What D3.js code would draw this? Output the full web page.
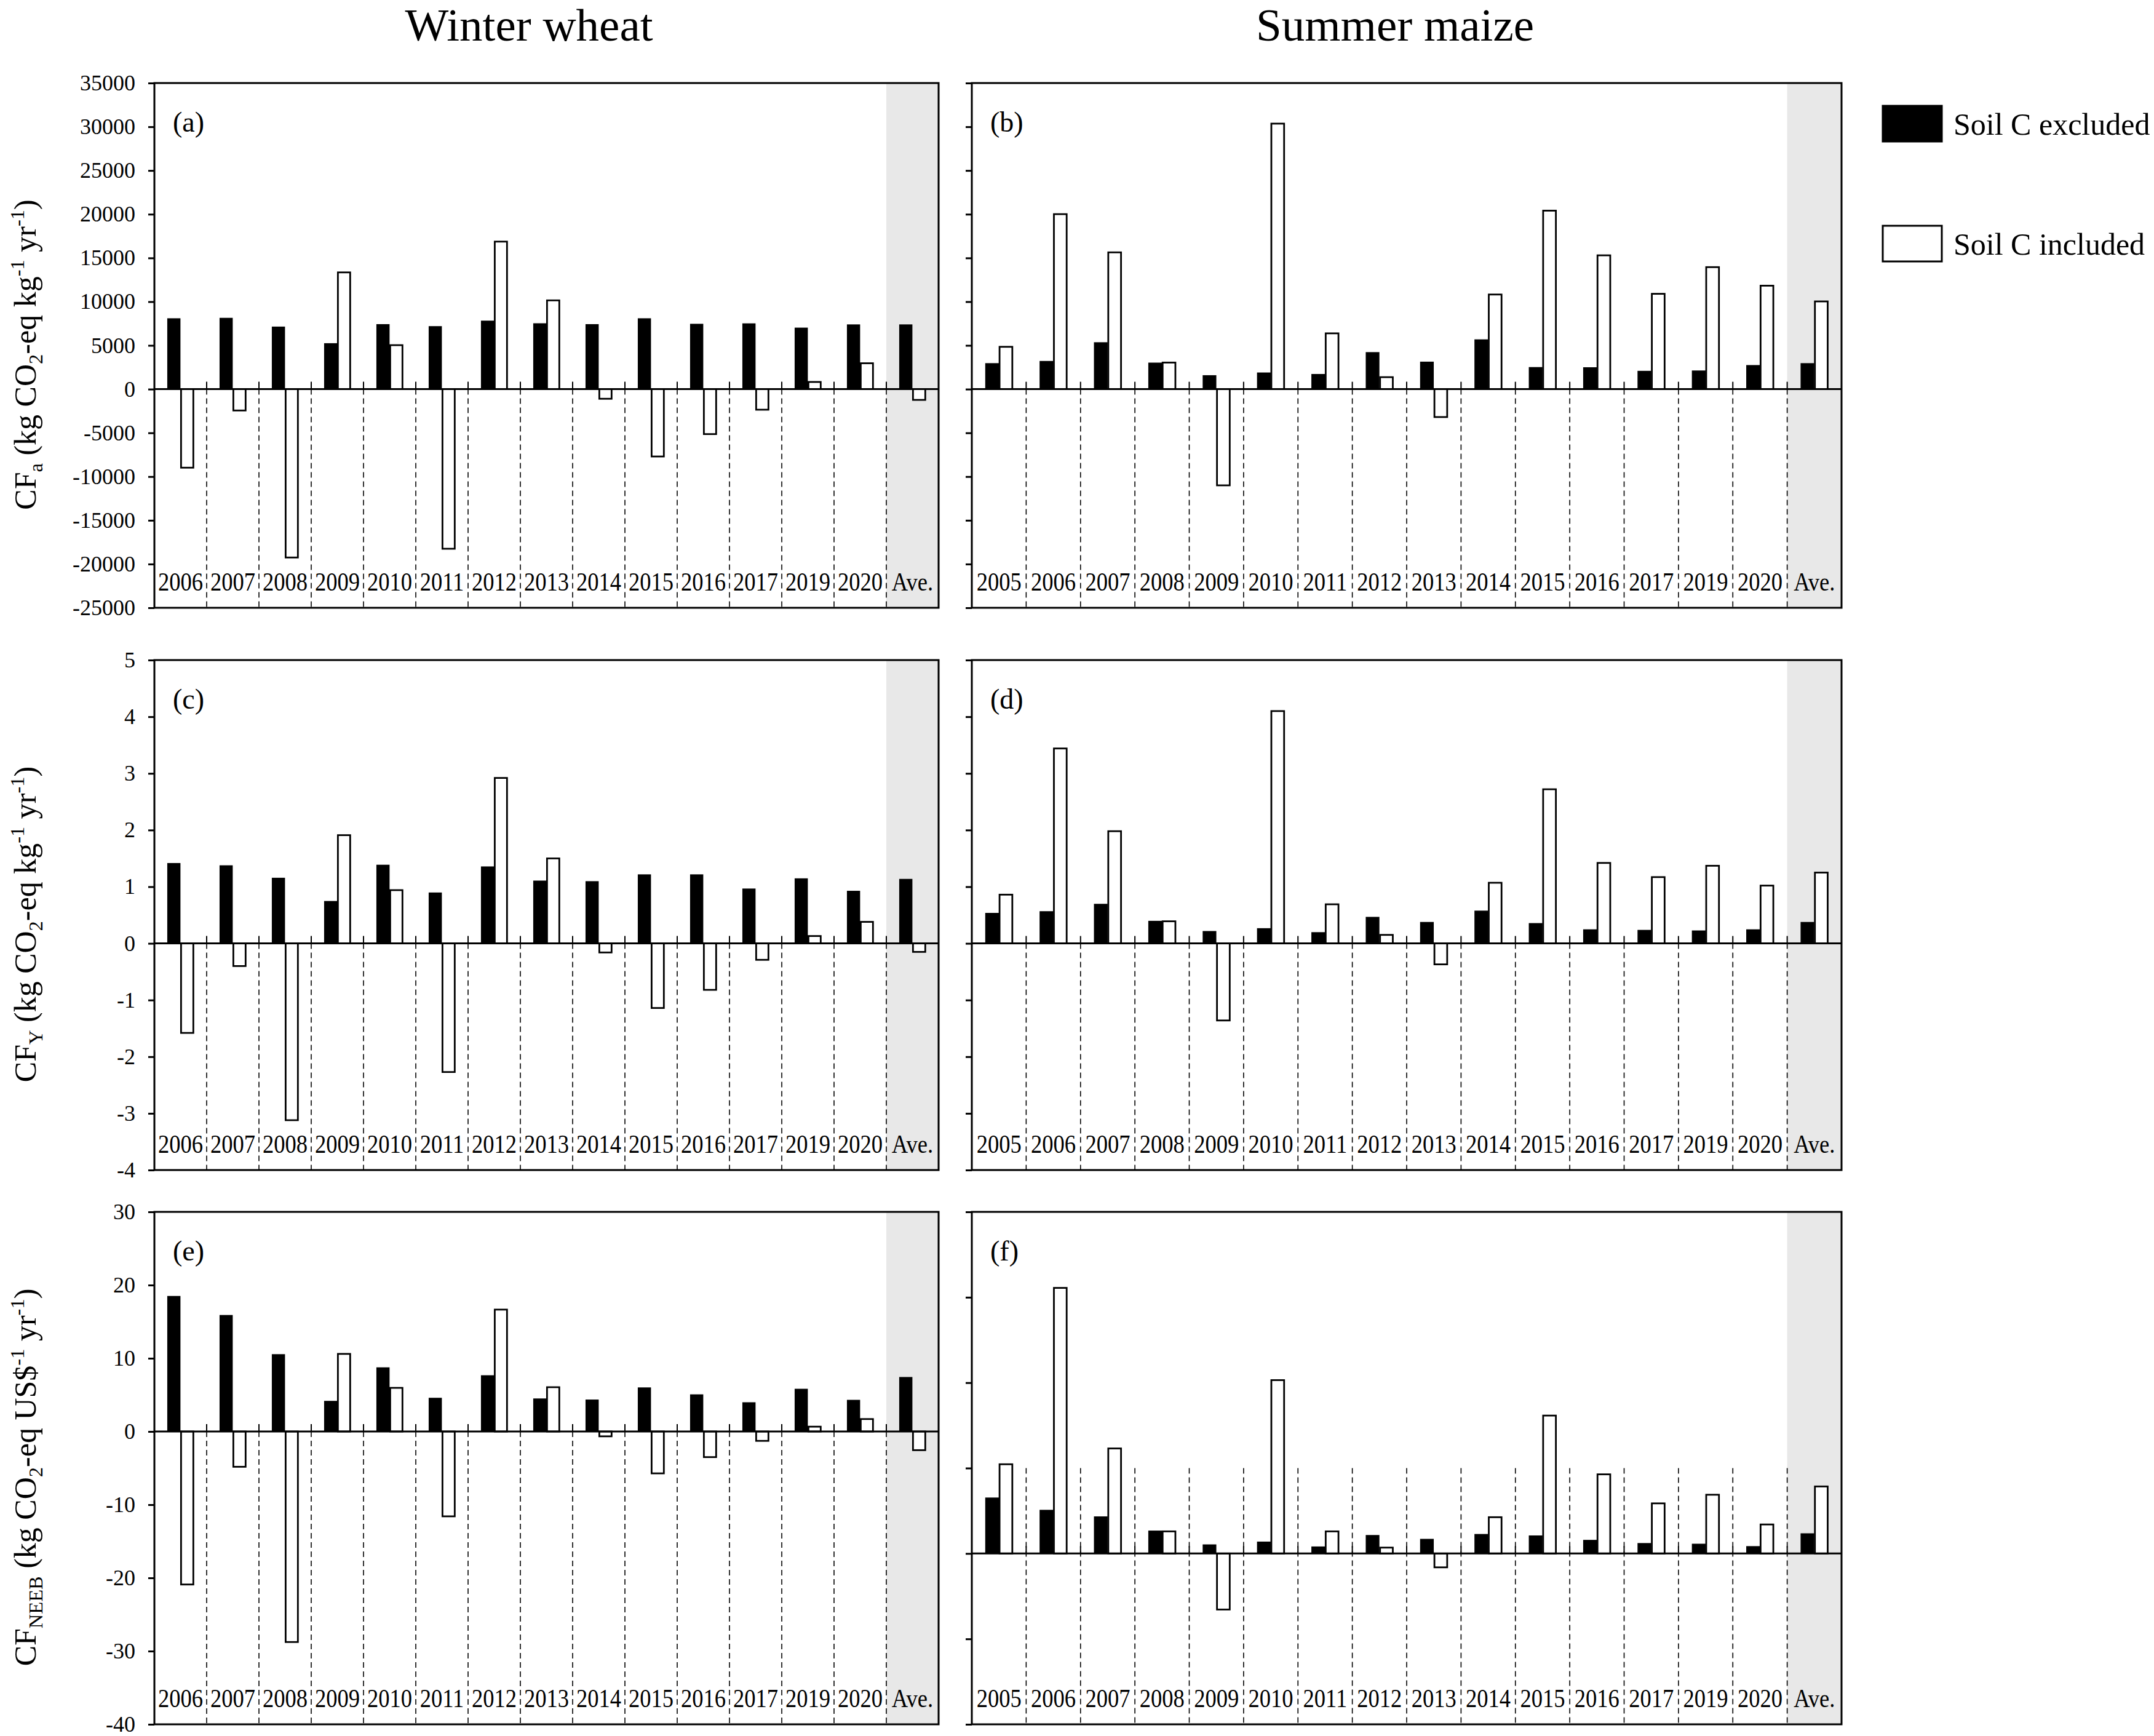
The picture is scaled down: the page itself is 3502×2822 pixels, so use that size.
<!DOCTYPE html>
<html>
<head>
<meta charset="utf-8">
<script src="https://cdn.jsdelivr.net/npm/d3@7"></script>
<style>
  body { margin: 0; background: #fff; }
  text { white-space: pre; }
</style>
</head>
<body>
<div id="chart"></div>
<script>
// ---- data ----
const wheatYears = ["2006","2007","2008","2009","2010","2011","2012","2013","2014","2015","2016","2017","2019","2020","Ave."];
const maizeYears = ["2005","2006","2007","2008","2009","2010","2011","2012","2013","2014","2015","2016","2017","2019","2020","Ave."];

// (a) CFa winter wheat
const cfaWheatExcl = [8050, 8100, 7100, 5200, 7380, 7150, 7780, 7480, 7380, 8050, 7420, 7470, 6980, 7350, 7350];
const cfaWheatIncl = [-8980, -2440, -19250, 13350, 5030, -18250, 16870, 10150, -1100, -7700, -5140, -2350, 820, 2960, -1230];
// (b) CFa summer maize
const cfaMaizeExcl = [2920, 3170, 5310, 2980, 1540, 1850, 1680, 4180, 3090, 5640, 2470, 2450, 2040, 2080, 2700, 2920];
const cfaMaizeIncl = [4840, 20010, 15640, 3040, -11000, 30360, 6380, 1370, -3190, 10820, 20410, 15300, 10900, 13950, 11830, 10030];
// (c) CFY winter wheat
const cfyWheatExcl = [1.41, 1.37, 1.15, 0.74, 1.38, 0.89, 1.35, 1.10, 1.09, 1.21, 1.21, 0.96, 1.14, 0.92, 1.13];
const cfyWheatIncl = [-1.58, -0.40, -3.12, 1.91, 0.94, -2.27, 2.92, 1.50, -0.16, -1.14, -0.82, -0.29, 0.13, 0.38, -0.15];
// (d) CFY summer maize
const cfyMaizeExcl = [0.53, 0.56, 0.69, 0.39, 0.21, 0.26, 0.19, 0.46, 0.37, 0.57, 0.35, 0.24, 0.23, 0.22, 0.24, 0.37];
const cfyMaizeIncl = [0.86, 3.44, 1.98, 0.39, -1.36, 4.10, 0.69, 0.15, -0.37, 1.07, 2.72, 1.42, 1.17, 1.37, 1.02, 1.25];
// (e) CFNEEB winter wheat
const cfnWheatExcl = [18.45, 15.85, 10.5, 4.12, 8.7, 4.54, 7.62, 4.45, 4.3, 5.96, 5.01, 3.93, 5.77, 4.26, 7.38];
const cfnWheatIncl = [-20.9, -4.82, -28.76, 10.6, 5.96, -11.59, 16.65, 6.05, -0.66, -5.72, -3.5, -1.28, 0.66, 1.7, -2.55];
// (f) CFNEEB summer maize (axis has no labels in the figure)
const cfnMaizeExcl = [6.5, 5.06, 4.29, 2.63, 1.01, 1.34, 0.77, 2.11, 1.66, 2.23, 2.06, 1.54, 1.17, 1.09, 0.81, 2.31];
const cfnMaizeIncl = [10.45, 31.1, 12.3, 2.59, -6.56, 20.3, 2.59, 0.69, -1.62, 4.25, 16.15, 9.27, 5.87, 6.88, 3.4, 7.85];

const seriesNames = ["Soil C excluded", "Soil C included"];
const cropTitles = ["Winter wheat", "Summer maize"];

// ---- layout ----
const W = 3502, H = 2822;
const font = '"Liberation Serif","Times New Roman",serif';

const cols = [{x0: 251, x1: 1526}, {x0: 1580, x1: 2994}];
const rows = [{y0: 135, y1: 988}, {y0: 1073, y1: 1902}, {y0: 1970, y1: 2803}];

const svg = d3.select("#chart").append("svg")
  .attr("width", W).attr("height", H)
  .style("display", "block")
  .style("font-family", font);

svg.append("rect").attr("width", W).attr("height", H).attr("fill", "#fff");

const panels = [
  {tag: "(a)", col: 0, row: 0, cats: wheatYears, excl: cfaWheatExcl, incl: cfaWheatIncl, dom: [-25000, 35000], step: 5000, labels: true, dashFrom: 0},
  {tag: "(b)", col: 1, row: 0, cats: maizeYears, excl: cfaMaizeExcl, incl: cfaMaizeIncl, dom: [-25000, 35000], step: 5000, labels: false, dashFrom: 0},
  {tag: "(c)", col: 0, row: 1, cats: wheatYears, excl: cfyWheatExcl, incl: cfyWheatIncl, dom: [-4, 5], step: 1, labels: true, dashFrom: 0},
  {tag: "(d)", col: 1, row: 1, cats: maizeYears, excl: cfyMaizeExcl, incl: cfyMaizeIncl, dom: [-4, 5], step: 1, labels: false, dashFrom: 0},
  {tag: "(e)", col: 0, row: 2, cats: wheatYears, excl: cfnWheatExcl, incl: cfnWheatIncl, dom: [-40, 30], step: 10, labels: true, dashFrom: 0},
  {tag: "(f)", col: 1, row: 2, cats: maizeYears, excl: cfnMaizeExcl, incl: cfnMaizeIncl, dom: [-20, 40], step: 10, labels: false, dashFrom: 10}
];

function drawPanel(p) {
  const c = cols[p.col], r = rows[p.row];
  const g = svg.append("g");

  const x = d3.scaleBand().domain(p.cats).range([c.x0, c.x1]);
  const xs = d3.scaleBand().domain(["excl", "incl"])
    .range([0, x.bandwidth()]).paddingInner(0.08).paddingOuter(1);
  const y = d3.scaleLinear().domain(p.dom).range([r.y1, r.y0]);

  // grey background for the average column
  g.append("rect")
    .attr("x", x("Ave.")).attr("y", r.y0)
    .attr("width", c.x1 - x("Ave.")).attr("height", r.y1 - r.y0)
    .attr("fill", "#e8e8e8");

  const bounds = p.cats.slice(1);

  g.selectAll(".sep").data(bounds).join("line")
    .attr("class", "sep")
    .attr("x1", d => x(d)).attr("x2", d => x(d))
    .attr("y1", y(p.dashFrom)).attr("y2", r.y1)
    .attr("stroke", "#000").attr("stroke-width", 1.6)
    .attr("stroke-dasharray", "9,6");

  g.selectAll(".xt").data(bounds).join("line")
    .attr("class", "xt")
    .attr("x1", d => x(d)).attr("x2", d => x(d))
    .attr("y1", y(0) - 12).attr("y2", y(0))
    .attr("stroke", "#000").attr("stroke-width", 2);

  const data = p.cats.map((k, i) => ({k, excl: p.excl[i], incl: p.incl[i]}));

  g.selectAll(".bx").data(data).join("rect")
    .attr("class", "bx")
    .attr("x", d => x(d.k) + xs("excl"))
    .attr("width", xs.bandwidth())
    .attr("y", d => y(Math.max(0, d.excl)))
    .attr("height", d => Math.abs(y(d.excl) - y(0)))
    .attr("fill", "#000").attr("stroke", "#000").attr("stroke-width", 1.5);

  g.selectAll(".bi").data(data).join("rect")
    .attr("class", "bi")
    .attr("x", d => x(d.k) + xs("incl"))
    .attr("width", xs.bandwidth())
    .attr("y", d => y(Math.max(0, d.incl)))
    .attr("height", d => Math.abs(y(d.incl) - y(0)))
    .attr("fill", "#fff").attr("stroke", "#000").attr("stroke-width", 2.8);

  // zero line
  g.append("line")
    .attr("x1", c.x0).attr("x2", c.x1)
    .attr("y1", y(0)).attr("y2", y(0))
    .attr("stroke", "#000").attr("stroke-width", 3);

  // y axis
  const ticks = d3.range(p.dom[0], p.dom[1] + p.step / 2, p.step);
  const yAxis = d3.axisLeft(y).tickValues(ticks).tickSize(10).tickPadding(21)
    .tickFormat(p.labels ? d => String(d) : "");
  const ag = g.append("g").attr("transform", `translate(${c.x0},0)`).call(yAxis);
  ag.select(".domain").remove();
  ag.selectAll("line").attr("stroke-width", 3);
  ag.selectAll("text").attr("font-family", font).attr("font-size", 36).attr("fill", "#000");

  // frame
  g.append("rect")
    .attr("x", c.x0).attr("y", r.y0)
    .attr("width", c.x1 - c.x0).attr("height", r.y1 - r.y0)
    .attr("fill", "none").attr("stroke", "#000").attr("stroke-width", 3);

  // category labels
  g.selectAll(".cl").data(p.cats).join("text")
    .attr("class", "cl")
    .attr("transform", d => `translate(${x(d) + x.bandwidth() / 2},${r.y1 - 28}) scale(0.87,1)`)
    .attr("text-anchor", "middle")
    .attr("font-size", 42)
    .text(d => d);

  g.append("text")
    .attr("x", c.x0 + 30).attr("y", r.y0 + 79)
    .attr("font-size", 46)
    .text(p.tag);
}

panels.forEach(drawPanel);

// rich text helper for sub/superscripts
function richText(sel, parts, size) {
  let cur = 0;
  parts.forEach(([t, m]) => {
    const shift = m < 0 ? 0.22 * size : m > 0 ? -0.38 * size : 0;
    sel.append("tspan")
      .attr("dy", shift - cur)
      .attr("font-size", m === 0 ? size : size * 0.65)
      .text(t);
    cur = shift;
  });
}

const yTitles = [
  [["CF", 0], ["a", -1], [" (kg CO", 0], ["2", -1], ["-eq kg", 0], ["-1", 1], [" yr", 0], ["-1", 1], [")", 0]],
  [["CF", 0], ["Y", -1], [" (kg CO", 0], ["2", -1], ["-eq kg", 0], ["-1", 1], [" yr", 0], ["-1", 1], [")", 0]],
  [["CF", 0], ["NEEB", -1], [" (kg CO", 0], ["2", -1], ["-eq US$", 0], ["-1", 1], [" yr", 0], ["-1", 1], [")", 0]]
];

yTitles.forEach((parts, i) => {
  const r = rows[i];
  const t = svg.append("text")
    .attr("transform", `translate(58,${(r.y0 + r.y1) / 2 + 15}) rotate(-90)`)
    .attr("text-anchor", "middle")
    .attr("font-size", 50);
  richText(t, parts, 50);
});

// column titles
svg.selectAll(".ct").data(cropTitles).join("text")
  .attr("class", "ct")
  .attr("x", (d, i) => [860, 2268][i])
  .attr("y", 66)
  .attr("text-anchor", "middle")
  .attr("font-size", 75)
  .text(d => d);

// legend
const leg = svg.append("g").attr("transform", "translate(3061,172)");
leg.selectAll("rect").data(seriesNames).join("rect")
  .attr("x", 0).attr("y", (d, i) => i * 195)
  .attr("width", 96).attr("height", 58)
  .attr("fill", (d, i) => i === 0 ? "#000" : "#fff")
  .attr("stroke", "#000").attr("stroke-width", 3);
leg.selectAll("text").data(seriesNames).join("text")
  .attr("x", 115).attr("y", (d, i) => i * 195 + 47)
  .attr("font-size", 50)
  .text(d => d);
</script>
</body>
</html>
